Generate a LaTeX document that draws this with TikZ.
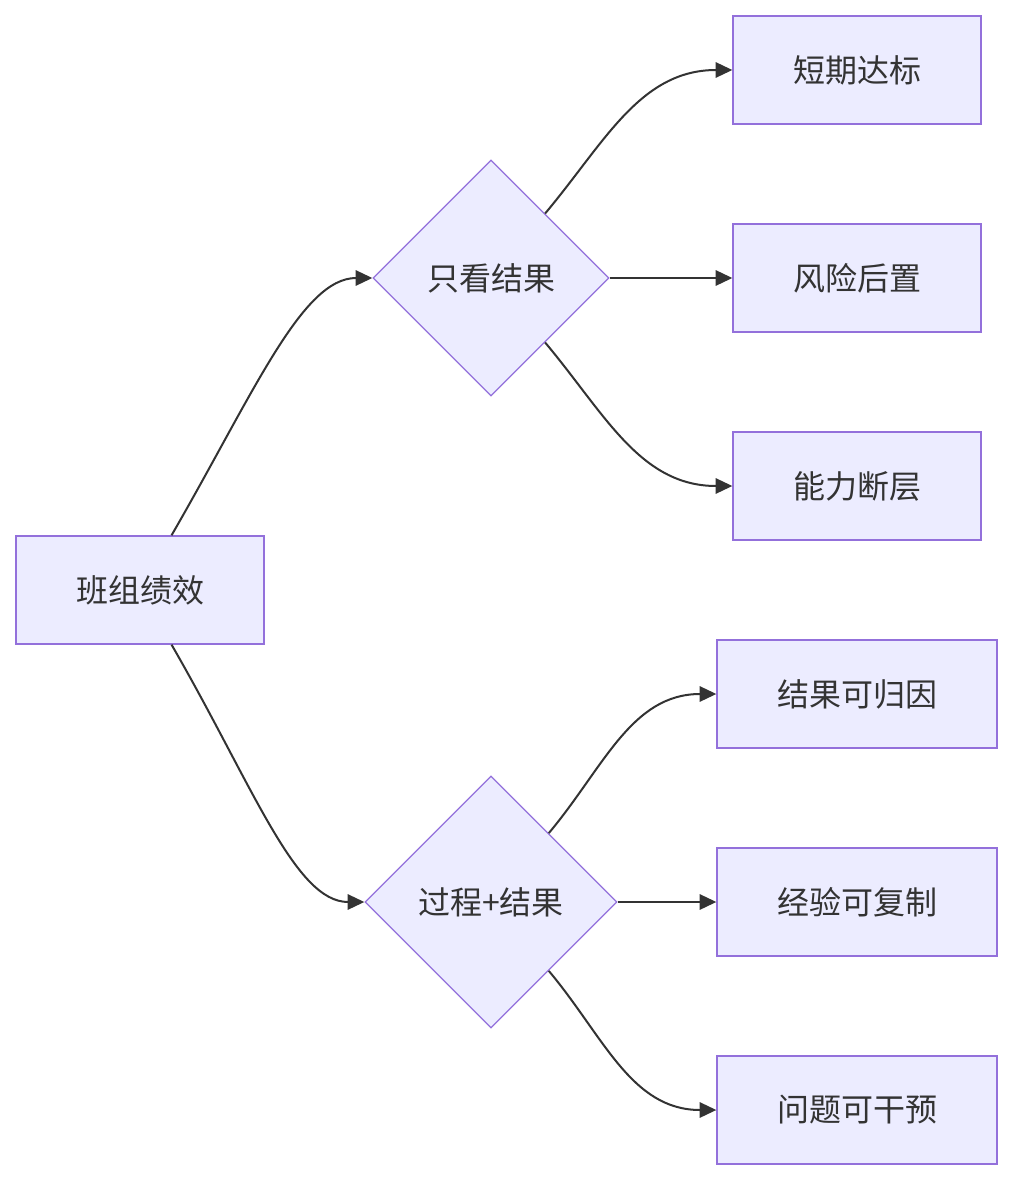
\documentclass[tikz,border=0pt]{standalone}
\usepackage{fontspec}
\newfontfamily\cjk{Noto Sans CJK SC}
\usepackage{tikz}
\usetikzlibrary{positioning,arrows.meta,shapes.geometric}
\definecolor{boxfill}{HTML}{ECECFF}
\definecolor{boxline}{HTML}{9370DB}
\definecolor{linkcol}{HTML}{333333}
\tikzset{
  box/.style={rectangle, draw=boxline, fill=boxfill, line width=1pt,
    minimum width=186pt, minimum height=81pt, inner sep=0pt,
    text=linkcol, font=\cjk\fontsize{24}{28}\selectfont},
  widebox/.style={box, minimum width=210pt},
  choice/.style={diamond, aspect=1, draw=boxline, fill=boxfill, line width=1pt,
    inner sep=0pt, text=linkcol, font=\cjk\fontsize{24}{28}\selectfont},
  link/.style={draw=linkcol, line width=1.5pt,
    -{Triangle[length=12.5pt,width=11.5pt]}}
}

\begin{document}
\begin{tikzpicture}[x=0.75pt, y=-0.75pt, node distance=74pt]
  \useasboundingbox (0,0) rectangle (1012,1180);

  \node[box] (team) at (140,590) {班组绩效};
  \node[choice, minimum size=177pt] (result) at (491,278) {只看结果};
  \node[choice, minimum size=189pt] (process) at (491,902) {过程+结果};

  % only results
  \node[box, right=92pt of result] (risk) {风险后置};
  \node[box, above=of risk] (short) {短期达标};
  \node[box, below=of risk] (gap) {能力断层};

  % process plus results
  \node[widebox, right=of process] (copy) {经验可复制};
  \node[widebox, above=of copy] (cause) {结果可归因};
  \node[widebox, below=of copy] (fix) {问题可干预};

  \draw[link] (team) to[out=60, in=180, out looseness=1.3, in looseness=0.55] (result);
  \draw[link] (team) to[out=-60, in=180, out looseness=1.3, in looseness=0.55] (process);

  \draw[link] (result) to[out=50, in=180] (short);
  \draw[link] (result) -- (risk);
  \draw[link] (result) to[out=-50, in=180] (gap);

  \draw[link] (process) to[out=50, in=180] (cause);
  \draw[link] (process) -- (copy);
  \draw[link] (process) to[out=-50, in=180] (fix);

\end{tikzpicture}
\end{document}
